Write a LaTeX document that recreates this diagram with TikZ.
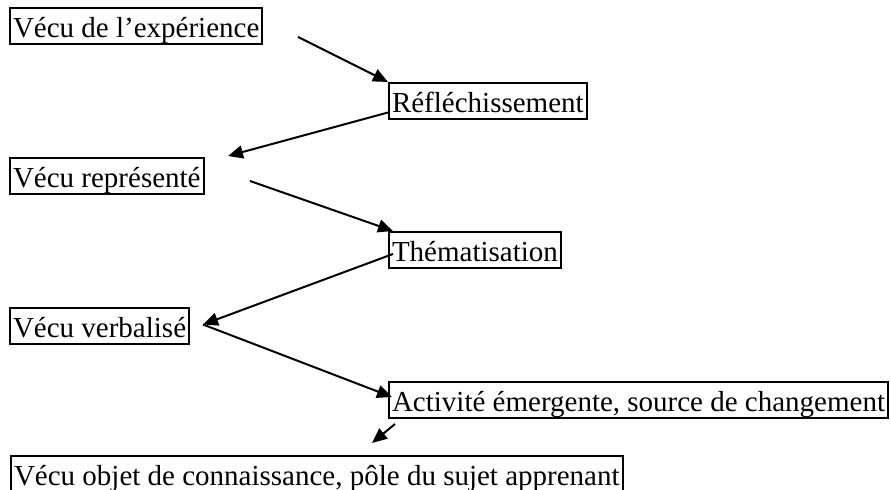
\documentclass[tikz,border=0pt]{standalone}
\usepackage{fontspec}
\setmainfont{Liberation Serif}
\usepackage{tikz}
\usetikzlibrary{arrows.meta, positioning}

\begin{document}
\begin{tikzpicture}[x=0.5pt, y=-0.5pt,
        box/.style={draw, line width=1pt, anchor=north west, inner xsep=1.5pt, inner ysep=0pt,
            minimum height=18pt, text height=14pt, text depth=2pt, font=\fontsize{14.5}{17}\selectfont},
        arr/.style={-{Triangle[length=7.5pt, width=6.5pt]}, line width=1pt}
    ]
    \clip (0,0) rectangle (890,490);

    \node[box] (vecu) at (9,7) {Vécu de l’expérience};
    \node[box] (refl) at (388,82) {Réfléchissement};
    \node[box] (repr) at (9,157) {Vécu représenté};
    \node[box] (them) at (388,231) {Thématisation};
    \node[box] (verb) at (9,307) {Vécu verbalisé};
    \node[box] (acti) at (388,381) {Activité émergente, source de changement};
    \node[box] (objet) at (10,455) {Vécu objet de connaissance, pôle du sujet apprenant};

    % free ends of the arrows
    \coordinate (s1) at (298,37);
    \coordinate (e2) at (228,156);
    \coordinate (s3) at (250,181);
    \coordinate (vt) at (203,324.5);
    \coordinate (e6) at (372,443);

    \draw[arr] (s1) -- (refl.north west);
    \draw[arr] ([yshift=-5.75pt]refl.west) -- (e2);
    \draw[arr] (s3) -- ([xshift=2.5pt]them.north west);
    \draw[arr] ([xshift=2.5pt, yshift=-2pt]them.west) -- (vt);
    \draw[arr] (vt) -- ([xshift=2pt, yshift=1.5pt]acti.west);
    \draw[arr] ([xshift=3.5pt, yshift=-2.5pt]acti.south west) -- (e6);

\end{tikzpicture}
\end{document}
